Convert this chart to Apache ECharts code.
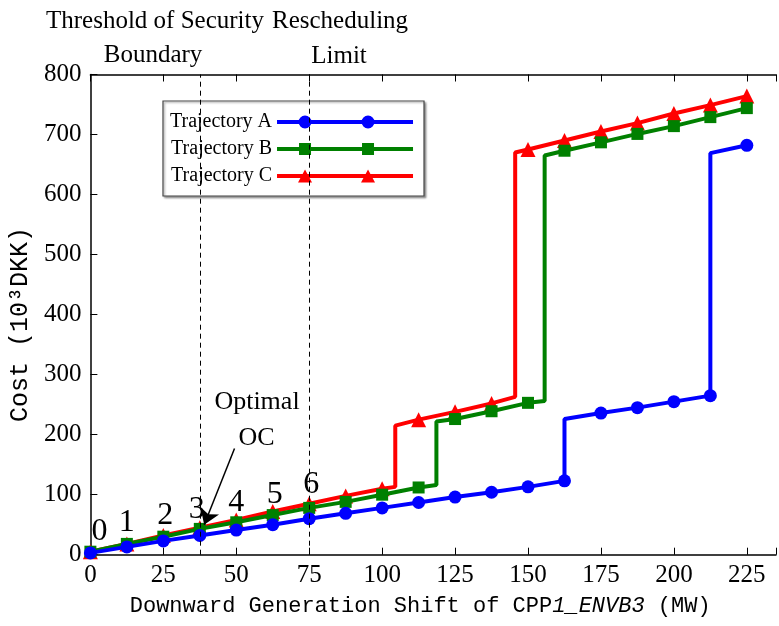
<!DOCTYPE html>
<html>
<head>
<meta charset="utf-8">
<script src="https://cdn.jsdelivr.net/npm/echarts@6/dist/echarts.min.js"></script>
<style>
  html, body { margin: 0; padding: 0; background: #fff; }
  #chart { width: 779px; height: 626px; }
</style>
</head>
<body>
<div id="chart"></div>
<script>
// Downward generation shift at each marker (MW)
const shiftMW = [0, 12.5, 25, 37.5, 50, 62.5, 75, 87.5, 100, 112.5, 125, 137.5, 150, 162.5, 175, 187.5, 200, 212.5, 225];
// Cost at each marker (10^3 DKK)
const costA = [3, 13, 23, 32, 41, 50, 60, 69, 78, 87, 96, 104, 113, 123, 236, 245, 255, 265, 682];
const costB = [5, 18, 30, 43, 54, 66, 78, 88, 100, 112, 226, 239, 253, 673, 687, 701, 714, 729, 744];
const costC = [5, 18, 32, 45, 58, 72, 85, 98, 110, 225, 238, 252, 675, 690, 705, 719, 735, 749, 764];
// Cost jumps: [shift, cost before jump, cost after jump]
const jumpsA = [[162.5, 123, 226], [212.5, 265, 669]];
const jumpsB = [[118.6, 116, 222], [155.7, 256, 665]];
const jumpsC = [[104.5, 113, 215], [145.6, 263, 670]];
const seriesNames = ['Trajectory A', 'Trajectory B', 'Trajectory C'];
// Operating-point numbering for the first markers
const stageLabels = ['0', '1', '2', '3', '4', '5', '6'];
// Vertical reference lines (MW)
const securityBoundary = 37.5;
const reschedulingLimit = 75;
// Arrow pointing to the optimal operating condition: [from, to] in (MW, cost)
const optimalArrow = [[49.4, 177], [39, 50]];

const SERIF = '"Liberation Serif", "Times New Roman", serif';
const MONO = '"Liberation Mono", "DejaVu Sans Mono", monospace';

// Label nudges for the stage numbers (px)
const stageLabelOffsets = [[9, -20], [0, -21], [2, -20], [-3, -18], [0, -17], [2, -17], [2, -19]];

function buildPoints(costs, jumps) {
  const pts = shiftMW.map((x, i) => ({ value: [x, costs[i]] }));
  jumps.forEach(([x, lo, hi]) => {
    pts.push({ value: [x, lo], symbol: 'none' });
    pts.push({ value: [x, hi], symbol: 'none' });
  });
  pts.sort((a, b) => (a.value[0] - b.value[0]) || (a.value[1] - b.value[1]));
  return pts;
}

const dataA = buildPoints(costA, jumpsA);
const dataB = buildPoints(costB, jumpsB);
const dataC = buildPoints(costC, jumpsC);

// Stage numbers sit on the top trajectory's first markers
stageLabels.forEach((txt, i) => {
  const item = dataC.find(p => p.symbol !== 'none' && p.value[0] === shiftMW[i]);
  item.label = {
    show: true, position: 'inside', formatter: txt,
    offset: stageLabelOffsets[i],
    fontFamily: SERIF, fontSize: 32, color: '#000'
  };
});

// Legend keys: a thick line with two markers on it (136 x 13 box)
const keyLine = 'M0,4.5 L136,4.5 L136,8.5 L0,8.5 Z ';
function keyCircles(cxs, r) {
  return cxs.map(cx => `M${cx - r},6.5 A${r},${r} 0 1 1 ${cx + r},6.5 A${r},${r} 0 1 1 ${cx - r},6.5 Z `).join('');
}
function keySquares(cxs, h) {
  return cxs.map(cx => `M${cx - h},${6.5 - h} L${cx + h},${6.5 - h} L${cx + h},${6.5 + h} L${cx - h},${6.5 + h} Z `).join('');
}
function keyTriangles(cxs) {
  return cxs.map(cx => `M${cx},0 L${cx + 7},13 L${cx - 7},13 Z `).join('');
}
const keyX = [28, 91];
const legendIcons = [
  'path://' + keyLine + keyCircles(keyX, 6.5),
  'path://' + keyLine + keySquares(keyX, 6),
  'path://' + keyLine + keyTriangles(keyX)
];

const chart = echarts.init(document.getElementById('chart'), null, { renderer: 'canvas' });

const axisLineStyle = { color: '#000', width: 1.5 };

chart.setOption({
  animation: false,
  backgroundColor: '#fff',
  grid: { left: 88, right: 0, top: 74.5, bottom: 71.3, containLabel: false },
  legend: {
    data: seriesNames.map((n, i) => ({ name: n, icon: legendIcons[i] })),
    left: 163, top: 101,
    orient: 'vertical',
    align: 'right',
    itemWidth: 136, itemHeight: 13,
    itemGap: 7,
    padding: [11, 11, 10, 7],
    borderColor: '#444', borderWidth: 1.2,
    backgroundColor: '#fff',
    shadowColor: 'rgba(0,0,0,0.35)', shadowBlur: 2, shadowOffsetX: 1.5, shadowOffsetY: 1.5,
    selectedMode: false,
    textStyle: { fontFamily: SERIF, fontSize: 20, lineHeight: 20, color: '#000' }
  },
  xAxis: [{
    type: 'value', position: 'bottom',
    min: 0, max: 235, interval: 25,
    axisLine: { lineStyle: axisLineStyle },
    axisTick: { inside: true, length: 7, lineStyle: { color: '#000', width: 1 } },
    axisLabel: {
      fontFamily: SERIF, fontSize: 25, color: '#000', margin: 8,
      formatter: v => (v > 225 ? '' : String(v))
    },
    splitLine: { show: false },
    name: 'Downward Generation Shift of CPP{it|1_ENVB3} (MW)',
    nameLocation: 'middle',
    nameGap: 40,
    nameTextStyle: {
      fontFamily: MONO, fontSize: 22, color: '#000',
      padding: [0, 26, 0, 0],
      rich: { it: { fontFamily: MONO, fontSize: 22, fontStyle: 'italic', color: '#000' } }
    }
  }, {
    type: 'value', position: 'top',
    min: 0, max: 235, interval: 25,
    axisLine: { lineStyle: axisLineStyle },
    axisTick: { inside: true, length: 7, lineStyle: { color: '#000', width: 1 } },
    axisLabel: { show: false },
    splitLine: { show: false }
  }],
  yAxis: {
    type: 'value',
    min: 0, max: 800, interval: 100,
    axisLine: { show: true, lineStyle: axisLineStyle },
    axisTick: { show: true, inside: true, length: 7, lineStyle: { color: '#000', width: 1 } },
    axisLabel: { fontFamily: SERIF, fontSize: 25, color: '#000', margin: 9 },
    splitLine: { show: false },
    name: 'Cost (10³DKK)',
    nameLocation: 'middle',
    nameGap: 48,
    nameTextStyle: { fontFamily: MONO, fontSize: 25, color: '#000', padding: [0, 20, 0, 0] }
  },
  series: [{
    name: seriesNames[2], type: 'line', data: dataC, z: 2, clip: false,
    color: '#ff0000',
    symbol: 'triangle', symbolSize: 15,
    lineStyle: { width: 4, color: '#ff0000' },
    itemStyle: { color: '#ff0000' },
    markLine: {
      silent: true, symbol: ['none', 'arrow'], symbolSize: 15,
      label: { show: false },
      lineStyle: { color: '#000', type: 'solid', width: 1.5 },
      data: [[{ coord: optimalArrow[0] }, { coord: optimalArrow[1] }]]
    }
  }, {
    name: seriesNames[1], type: 'line', data: dataB, z: 3, clip: false,
    color: '#008000',
    symbol: 'rect', symbolSize: 12,
    lineStyle: { width: 4, color: '#008000' },
    itemStyle: { color: '#008000' },
    markLine: {
      silent: true, symbol: 'none',
      label: { show: false },
      lineStyle: { color: '#000', type: [5, 4], width: 1 },
      data: [{ xAxis: securityBoundary }, { xAxis: reschedulingLimit }]
    }
  }, {
    name: seriesNames[0], type: 'line', data: dataA, z: 4, clip: false,
    color: '#0000ff',
    symbol: 'circle', symbolSize: 13,
    lineStyle: { width: 4, color: '#0000ff' },
    itemStyle: { color: '#0000ff' }
  }],
  graphic: [
    { type: 'text', x: 155, y: 21, style: { text: 'Threshold of Security', font: '25px ' + SERIF, fill: '#000', textAlign: 'center', textVerticalAlign: 'middle' } },
    { type: 'text', x: 153, y: 55, style: { text: 'Boundary', font: '25px ' + SERIF, fill: '#000', textAlign: 'center', textVerticalAlign: 'middle' } },
    { type: 'text', x: 272, y: 21, style: { text: 'Rescheduling', font: '25px ' + SERIF, fill: '#000', textAlign: 'left', textVerticalAlign: 'middle' } },
    { type: 'text', x: 339, y: 56, style: { text: 'Limit', font: '25px ' + SERIF, fill: '#000', textAlign: 'center', textVerticalAlign: 'middle' } },
    { type: 'text', x: 257, y: 402, style: { text: 'Optimal', font: '26px ' + SERIF, fill: '#000', textAlign: 'center', textVerticalAlign: 'middle' } },
    { type: 'text', x: 256.5, y: 438, style: { text: 'OC', font: '26px ' + SERIF, fill: '#000', textAlign: 'center', textVerticalAlign: 'middle' } }
  ]
});
</script>
</body>
</html>
